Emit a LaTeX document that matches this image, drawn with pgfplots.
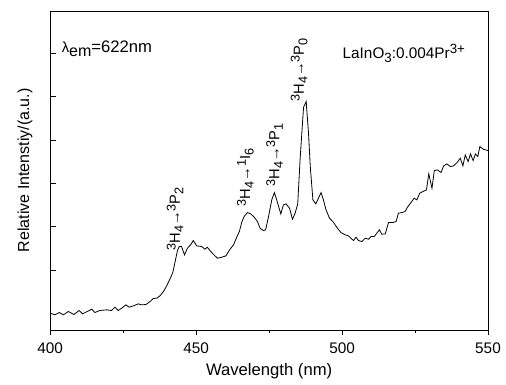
\documentclass[border=0pt]{standalone}
\usepackage{fontspec}
\setmainfont{Liberation Sans}
\usepackage{pgfplots}
\pgfplotsset{compat=1.18}
\newcommand{\up}[1]{\raisebox{0.55ex}{\fontsize{9.5}{10}\selectfont #1}}
\newcommand{\dn}[1]{\raisebox{-0.45ex}{\fontsize{9.5}{10}\selectfont #1}}
\newcommand{\upb}[1]{\raisebox{0.6ex}{\fontsize{10}{11}\selectfont #1}}
\newcommand{\dnb}[1]{\raisebox{-0.5ex}{\fontsize{10}{11}\selectfont #1}}
\newcommand{\annfont}{\fontsize{11}{13}\selectfont}
\begin{document}
\begin{tikzpicture}
\begin{axis}[
  scale only axis,
  width=328.5pt, height=239.25pt,
  xmin=400, xmax=550, ymin=0, ymax=957,
  xtick={400,450,500,550},
  minor xtick={425,475,525},
  xtick pos=bottom,
  x tick style={black},
  xtick align=outside,
  ytick={180,310,440,570,700,830},
  yticklabels={},
  ytick pos=left,
  ytick align=inside,
  y tick style={black, thin},
  major tick length=4pt, minor tick length=2.5pt,
  tick label style={font=\fontsize{11.5}{13}\selectfont},
  xticklabel style={yshift=-2.5pt},
  /pgf/number format/assume math mode=true,
  xlabel={Wavelength (nm)},
  ylabel={Relative Intenstiy/(a.u.)},
  xlabel style={font=\fontsize{12.5}{14}\selectfont, yshift=0pt},
  ylabel style={font=\fontsize{12}{14}\selectfont, yshift=3pt},
  axis line style={black},
  clip=false,
]
\addplot[black, line width=0.6pt] coordinates {
(400,50) (401.6,45) (403.1,52) (404.5,45) (406.2,55) (408.1,46) (409.9,58) (411.1,48)
(412.7,55) (414.2,62) (415.3,52) (417.0,58) (419.3,60) (421.0,58) (422.2,68) (423.3,58)
(424.5,65) (425.9,75) (427.1,68) (428.5,72) (430.2,78) (431.3,75) (432.8,76) (434.2,85)
(435.3,94) (436.5,95) (437.6,102) (438.8,115) (439.9,132) (441.0,152) (442.0,172)
(442.8,205) (443.6,238) (444.2,250) (445.0,250) (446.0,225) (447.0,245) (448.1,255)
(449.0,268) (450.2,252) (451.9,250) (453.0,242) (453.8,248) (455.0,235) (456.1,225)
(457.3,215) (458.8,218) (460.2,222) (461.6,242) (462.8,255) (463.9,278) (464.8,295)
(465.6,322) (466.4,340) (467.6,352) (468.7,348) (469.9,338) (471.0,325) (471.9,305)
(473.0,298) (473.8,300) (474.8,340) (475.9,390) (476.8,412) (477.6,390) (479.0,348)
(479.9,375) (480.8,378) (482.0,365) (483.0,332) (483.9,350) (484.8,378) (485.6,510)
(486.2,590) (486.8,668) (487.7,685) (488.5,590) (489.1,490) (490.0,390) (491.0,378)
(491.9,395) (492.8,412) (493.6,390) (494.5,360) (495.7,335) (497.1,322) (498.4,305)
(499.6,292) (501.1,285) (502.2,282) (503.0,275) (503.9,268) (504.8,278) (505.6,268)
(506.8,265) (507.9,275) (509.1,272) (509.9,280) (511.0,280) (511.9,290) (512.8,300)
(513.6,287) (514.8,288) (515.9,322) (517.4,322) (518.5,325) (519.3,350) (520.5,352)
(521.6,355) (522.4,368) (523.6,382) (524.7,395) (525.6,390) (526.6,410) (527.7,415)
(528.9,420) (529.7,468) (530.8,425) (531.6,478) (532.7,480) (533.9,472) (534.8,492)
(535.9,498) (537.1,490) (538.2,492) (539.4,502) (540.5,515) (541.4,492) (542.2,525)
(543.2,505) (544.0,528) (544.9,508) (545.7,528) (546.5,520) (547.2,550) (548.4,542)
(549.2,540) (550,538)
};
\node[anchor=base west, inner sep=0pt, font=\fontsize{12.5}{14}\selectfont] at (axis cs:403.9,833) {{\fontsize{11}{12}\selectfont λ}\raisebox{-0.45ex}{\fontsize{12}{13}\selectfont em}=622nm};
\node[anchor=base east, inner sep=0pt, font=\fontsize{11.5}{13}\selectfont] at (axis cs:542.2,815) {LaInO\dnb{3}:0.004Pr\upb{3+}};
\node[rotate=90, inner sep=0pt, font=\annfont] at (axis cs:442.8,333) {\up{3}H\dn{4}→\up{3}P\dn{2}};
\node[rotate=90, inner sep=0pt, font=\annfont] at (axis cs:466.9,457) {\up{3}H\dn{4}→\up{1}I\dn{6}};
\node[rotate=90, inner sep=0pt, font=\annfont] at (axis cs:476.9,525) {\up{3}H\dn{4}→\up{3}P\dn{1}};
\node[rotate=90, inner sep=0pt, font=\annfont] at (axis cs:485.3,780) {\up{3}H\dn{4}→\up{3}P\dn{0}};
\end{axis}
\path ([shift={(-37.7pt,-41.25pt)}]current axis.south west) rectangle ([shift={(13.5pt,8.25pt)}]current axis.north east);
\end{tikzpicture}
\end{document}
